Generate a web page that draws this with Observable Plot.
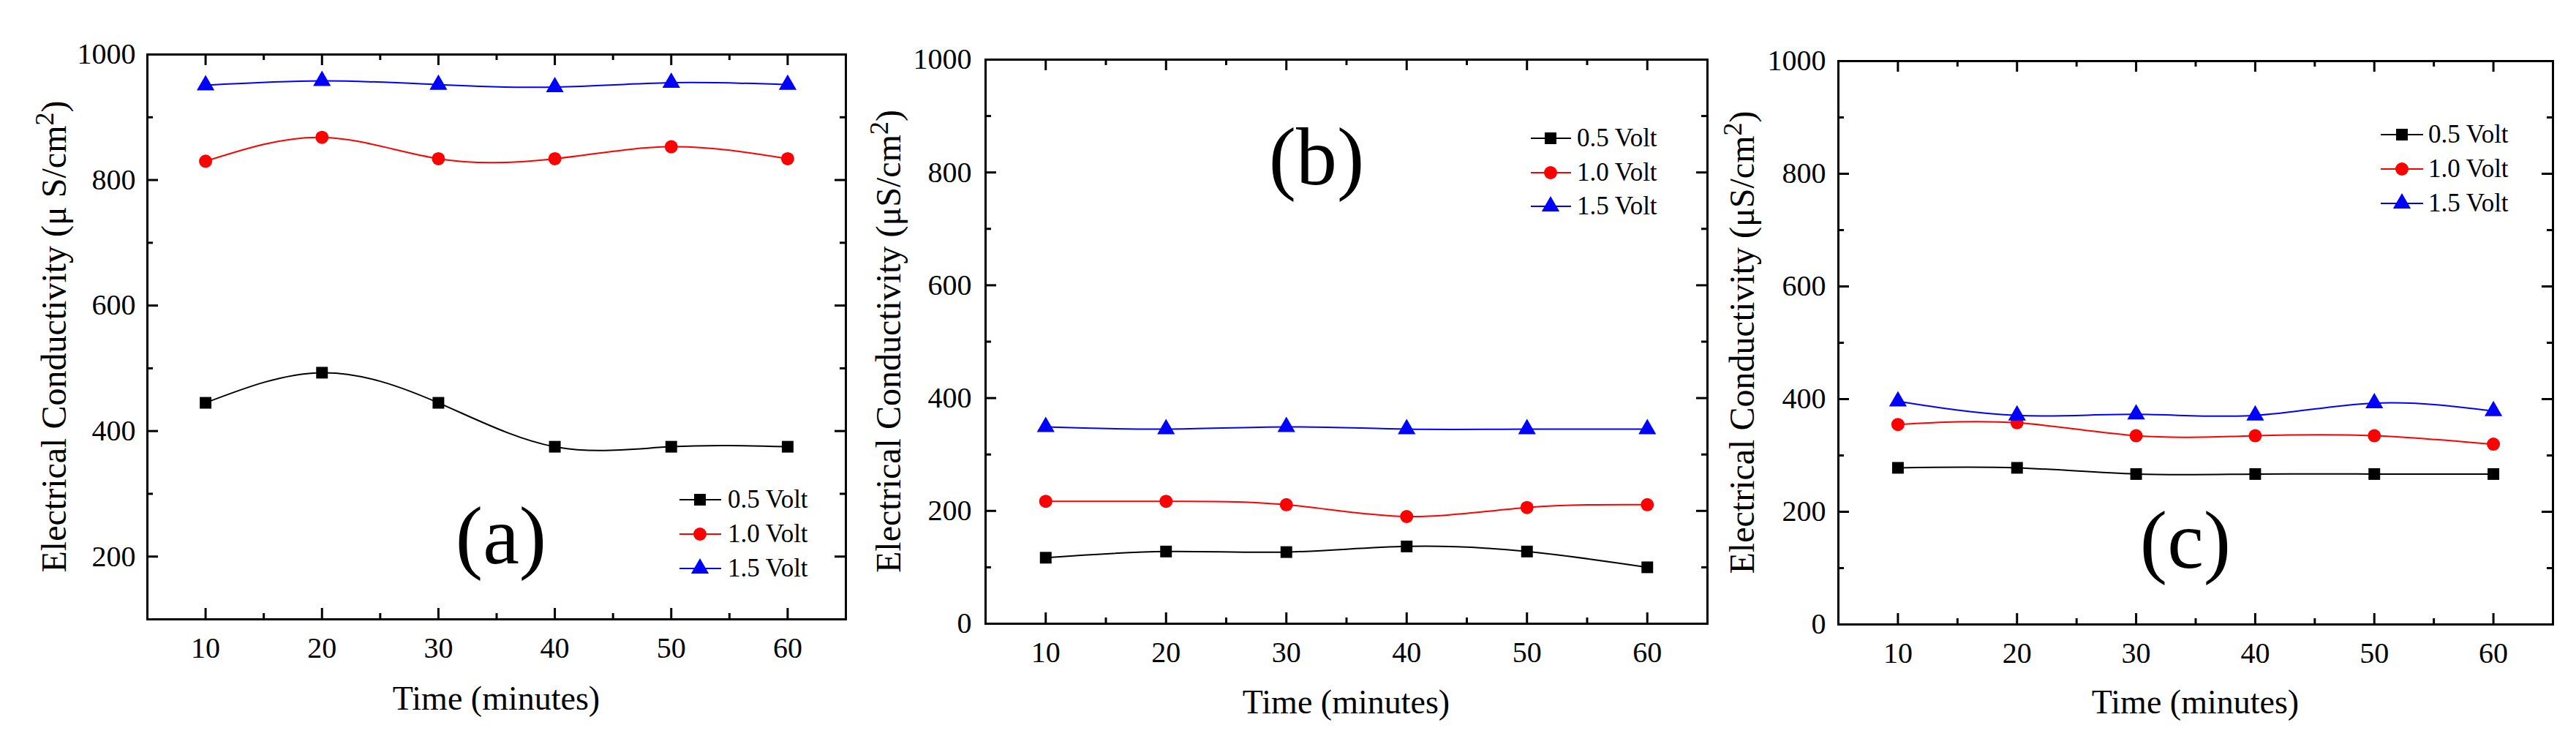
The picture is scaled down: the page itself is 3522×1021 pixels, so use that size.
<!DOCTYPE html>
<html>
<head>
<meta charset="utf-8">
<script src="https://cdn.jsdelivr.net/npm/d3@7"></script>
<script src="https://cdn.jsdelivr.net/npm/@observablehq/plot@0.6"></script>
<style>
html, body { margin: 0; padding: 0; background: #ffffff; }
#wrap { position: relative; width: 3522px; height: 1021px; overflow: hidden; background: #ffffff; }
#wrap svg { position: absolute; top: 0; }
</style>
</head>
<body>
<div id="wrap"></div>
<script>
// ---------- data ----------
const times = [10, 20, 30, 40, 50, 60];
const seriesNames = ["0.5 Volt", "1.0 Volt", "1.5 Volt"];

const a05 = [445, 493, 445, 375, 375, 375];
const a10 = [830, 868, 834, 834, 853, 834];
const a15 = [951, 958, 952, 948, 955, 952];

const b05 = [117, 128, 127, 137, 128, 100];
const b10 = [217, 217, 211, 190, 206, 211];
const b15 = [349, 345, 349, 345, 345, 345];

const c05 = [278, 278, 267, 267, 267, 267];
const c10 = [355, 358, 335, 335, 335, 320];
const c15 = [396, 371, 373, 371, 393, 379];

const xMajorTicks = [10, 20, 30, 40, 50, 60];
const xMinorTicks = [15, 25, 35, 45, 55];
const yMajorTicksA = [200, 400, 600, 800, 1000];
const yMinorTicksA = [300, 500, 700, 900];
const yMajorTicksBC = [0, 200, 400, 600, 800, 1000];
const yMinorTicksBC = [100, 300, 500, 700, 900];
const panelLetters = ["(a)", "(b)", "(c)"];
const xTitle = "Time (minutes)";
const yTitleMain = "Electrical Conductivity (μS/cm";
const yTitleMainA = "Electrical Conductivity (μ S/cm";

// ---------- style ----------
const colors = ["#000000", "#ff0000", "#0000ff"];
const plotSymbols = ["square", "circle", "triangle"];
const d3Symbols = [d3.symbolSquare, d3.symbolCircle, d3.symbolTriangle];
const FONT = "'Liberation Serif', 'Times New Roman', serif";
const R = 9;

const panels = [
  { left: 0, values: [a05, a10, a15], yDomain: [100, 1000], yMajor: yMajorTicksA, yMinor: yMinorTicksA,
    m: { l: 201, r: 18, t: 74, b: 175 }, yPad: 16, yTitleX: 73, yTitle: yTitleMainA,
    legend: { x0: 929, x1: 986, xm: 957, xt: 995, ys: [683, 730, 777] },
    letter: { x: 685, y: 770 }, xTitleY: 970 },
  { left: 1174, values: [b05, b10, b15], yDomain: [0, 1000], yMajor: yMajorTicksBC, yMinor: yMinorTicksBC,
    m: { l: 173, r: 14, t: 81, b: 169 }, yPad: 19, yTitleX: 40, yTitle: yTitleMain,
    legend: { x0: 919, x1: 974, xm: 946, xt: 982, ys: [189, 236, 282] },
    letter: { x: 626, y: 252 }, xTitleY: 975 },
  { left: 2348, values: [c05, c10, c15], yDomain: [0, 1000], yMajor: yMajorTicksBC, yMinor: yMinorTicksBC,
    m: { l: 165, r: 32, t: 83, b: 168 }, yPad: 17, yTitleX: 33, yTitle: yTitleMain,
    legend: { x0: 907, x1: 965, xm: 936, xt: 972, ys: [184, 231, 278] },
    letter: { x: 640, y: 776 }, xTitleY: 975 }
];

const W = 1174, H = 1021;
const wrap = document.getElementById("wrap");

panels.forEach((p, pi) => {
  const iw = W - p.m.l - p.m.r;
  const ih = H - p.m.t - p.m.b;
  const marks = [];

  // inward ticks (bottom, top, left, right)
  marks.push(Plot.tickX(xMajorTicks, { x: d => d, insetTop: ih - 15, stroke: "#000", strokeWidth: 3 }));
  marks.push(Plot.tickX(xMajorTicks, { x: d => d, insetBottom: ih - 15, stroke: "#000", strokeWidth: 3 }));
  marks.push(Plot.tickX(xMinorTicks, { x: d => d, insetTop: ih - 8, stroke: "#000", strokeWidth: 3 }));
  marks.push(Plot.tickX(xMinorTicks, { x: d => d, insetBottom: ih - 8, stroke: "#000", strokeWidth: 3 }));
  marks.push(Plot.tickY(p.yMajor, { y: d => d, insetRight: iw - 15, stroke: "#000", strokeWidth: 3 }));
  marks.push(Plot.tickY(p.yMajor, { y: d => d, insetLeft: iw - 15, stroke: "#000", strokeWidth: 3 }));
  marks.push(Plot.tickY(p.yMinor, { y: d => d, insetRight: iw - 8, stroke: "#000", strokeWidth: 3 }));
  marks.push(Plot.tickY(p.yMinor, { y: d => d, insetLeft: iw - 8, stroke: "#000", strokeWidth: 3 }));

  // series
  p.values.forEach((vals, si) => {
    const rows = times.map((t, i) => ({ time: t, value: vals[i], series: seriesNames[si] }));
    marks.push(Plot.line(rows, { x: "time", y: "value", curve: "natural", stroke: colors[si], strokeWidth: 2 }));
    marks.push(Plot.dot(rows, { x: "time", y: "value", symbol: () => plotSymbols[si], fill: colors[si], stroke: "none", r: R }));
  });

  marks.push(Plot.frame({ stroke: "#000", strokeWidth: 3 }));
  marks.push(Plot.axisX({ ticks: xMajorTicks, tickSize: 0, tickPadding: 24, fontSize: 40, label: null, tickFormat: "d" }));
  marks.push(Plot.axisY({ ticks: p.yMajor, tickSize: 0, tickPadding: p.yPad, fontSize: 40, label: null, tickFormat: "d" }));

  const svg = Plot.plot({
    width: W, height: H,
    marginLeft: p.m.l, marginRight: p.m.r, marginTop: p.m.t, marginBottom: p.m.b,
    x: { domain: [5, 65] },
    y: { domain: p.yDomain },
    symbol: { type: "identity" },
    style: { fontFamily: FONT, color: "#000", background: "transparent", overflow: "visible" },
    marks
  });
  svg.style.left = p.left + "px";
  wrap.appendChild(svg);

  const s = d3.select(svg);
  const g = s.append("g").attr("font-family", FONT).attr("fill", "#000").attr("text-anchor", "start");

  // legend
  seriesNames.forEach((name, i) => {
    const y = p.legend.ys[i];
    g.append("line").attr("x1", p.legend.x0).attr("x2", p.legend.x1).attr("y1", y).attr("y2", y)
      .attr("stroke", colors[i]).attr("stroke-width", 2);
    g.append("path").attr("d", d3.symbol(d3Symbols[i], Math.PI * R * R)())
      .attr("transform", `translate(${p.legend.xm},${y})`).attr("fill", colors[i]);
    g.append("text").attr("x", p.legend.xt).attr("y", y + 11).attr("font-size", 35)
      .attr("text-anchor", "start").text(name);
  });

  // panel letter
  g.append("text").attr("x", p.letter.x).attr("y", p.letter.y).attr("text-anchor", "middle")
    .attr("font-size", 112).text(panelLetters[pi]);

  // x title
  g.append("text").attr("x", p.m.l + iw / 2).attr("y", p.xTitleY).attr("text-anchor", "middle")
    .attr("font-size", 46).text(xTitle);

  // y title with superscript
  const yt = g.append("text")
    .attr("transform", `translate(${p.yTitleX + 17},${p.m.t + ih / 2}) rotate(-90)`)
    .attr("text-anchor", "middle").attr("font-size", 48);
  yt.append("tspan").text(p.yTitle);
  yt.append("tspan").attr("font-size", 36).attr("dy", -17).text("2");
  yt.append("tspan").attr("dy", 17).text(")");
});
</script>
</body>
</html>
